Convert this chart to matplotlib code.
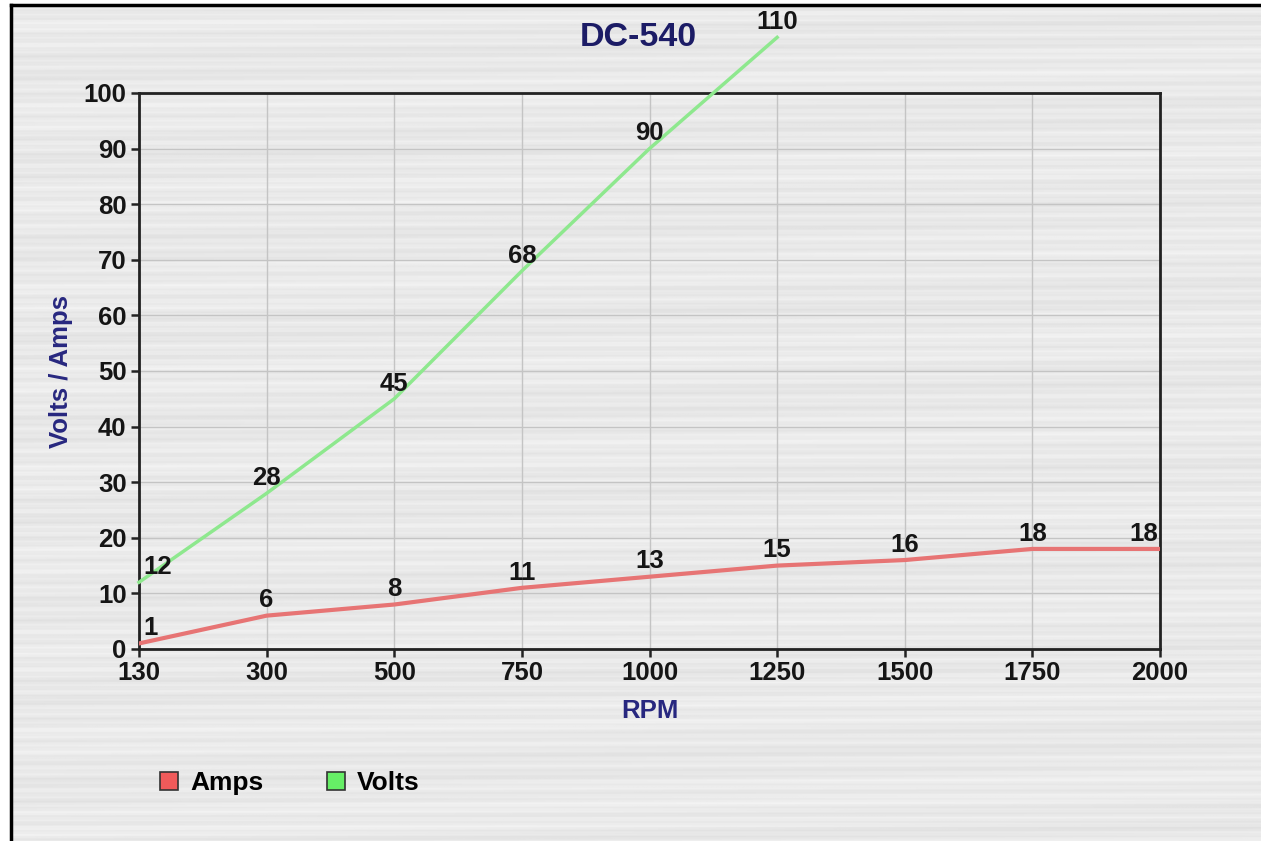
import matplotlib.pyplot as plt
import numpy as np
from matplotlib.lines import Line2D
from matplotlib.patches import Patch

# data
rpm = ['130', '300', '500', '750', '1000', '1250', '1500', '1750', '2000']
amps = [1, 6, 8, 11, 13, 15, 16, 18, 18]
volts = [12, 28, 45, 68, 90, 110]

plt.rcParams['font.family'] = ['Liberation Sans', 'DejaVu Sans']
plt.rcParams['font.weight'] = 'bold'

W, H = 1261, 841
fig = plt.figure(figsize=(W / 100, H / 100), dpi=100)
fig.patch.set_facecolor('white')

# brushed metal look behind everything
bg = fig.add_axes([0, 0, 1, 1], zorder=-10)
yy = np.arange(H)[:, None]
xx = np.arange(W)[None, :]
tex = (0.915
       + 0.014 * np.sin(yy * 0.83 + 0.002 * xx)
       + 0.012 * np.sin(yy * 0.31 + 1.3 + 0.004 * xx)
       + 0.008 * np.sin(yy * 2.17 + 0.5)
       + 0.008 * np.sin(yy * 0.07 + xx * 0.003))
bg.imshow(tex, cmap='gray', vmin=0, vmax=1, aspect='auto',
          extent=(11, W, H, 5), interpolation='bilinear')
bg.set_xlim(0, W)
bg.set_ylim(H, 0)
bg.axis('off')
# black frame on top and left
fig.add_artist(Line2D([11 / W, 11 / W], [0, 1 - 5 / H], color='black', lw=2.5))
fig.add_artist(Line2D([11 / W, 1], [1 - 5 / H, 1 - 5 / H], color='black', lw=2.5))

ax = fig.add_axes([139 / W, 1 - 649 / H, (1160 - 139) / W, (649 - 93) / H])
ax.patch.set_alpha(0)

ax.plot(rpm, amps, color='#e77474', lw=3, solid_joinstyle='round', zorder=3)
ax.plot(rpm[:len(volts)], volts, color='#8ee88e', lw=2.5, clip_on=False, zorder=3)

ax.set_xlim(0, len(rpm) - 1)
ax.set_ylim(0, 100)
ax.set_yticks(range(0, 101, 10))
ax.grid(True, color='#c4c4c4', lw=1)
ax.set_axisbelow(True)

for s in ax.spines.values():
    s.set_linewidth(2)
    s.set_color('#222222')
ax.tick_params(length=6, width=1.8, color='#222222', labelsize=18.5, labelcolor='#151515', pad=3)

# value labels
def label(series):
    last = len(rpm) - 1
    for i, v in enumerate(series):
        if i == 0:
            ha, dx = 'left', 3
        elif i == last:
            ha, dx = 'right', -1
        else:
            ha, dx = 'center', 0
        ax.annotate(str(v), (i, v), xytext=(dx, 11), textcoords='offset points',
                    ha=ha, va='center', fontsize=18.5, color='#151515',
                    annotation_clip=False, zorder=5)

label(amps)
label(volts)

ax.set_xlabel('RPM', fontsize=18.5, fontweight='bold', color='#27277f', labelpad=10)
ax.set_ylabel('Volts / Amps', fontsize=18.5, fontweight='bold', color='#27277f', labelpad=8)
fig.text(638 / W, 1 - 37 / H, 'DC-540', ha='center', va='center',
         fontsize=24.5, color='#1c1c66')

handles = [Patch(facecolor='#f05a5a', edgecolor='#333333', lw=1.2, label='Amps'),
           Patch(facecolor='#66ee66', edgecolor='#333333', lw=1.2, label='Volts')]
fig.legend(handles=handles, loc='center left', bbox_to_anchor=(136 / W, 1 - 783 / H),
           ncol=2, frameon=False, fontsize=19, handlelength=0.7, handleheight=0.7,
           handletextpad=0.45, columnspacing=2.4)

plt.savefig('out.png', dpi=100)
